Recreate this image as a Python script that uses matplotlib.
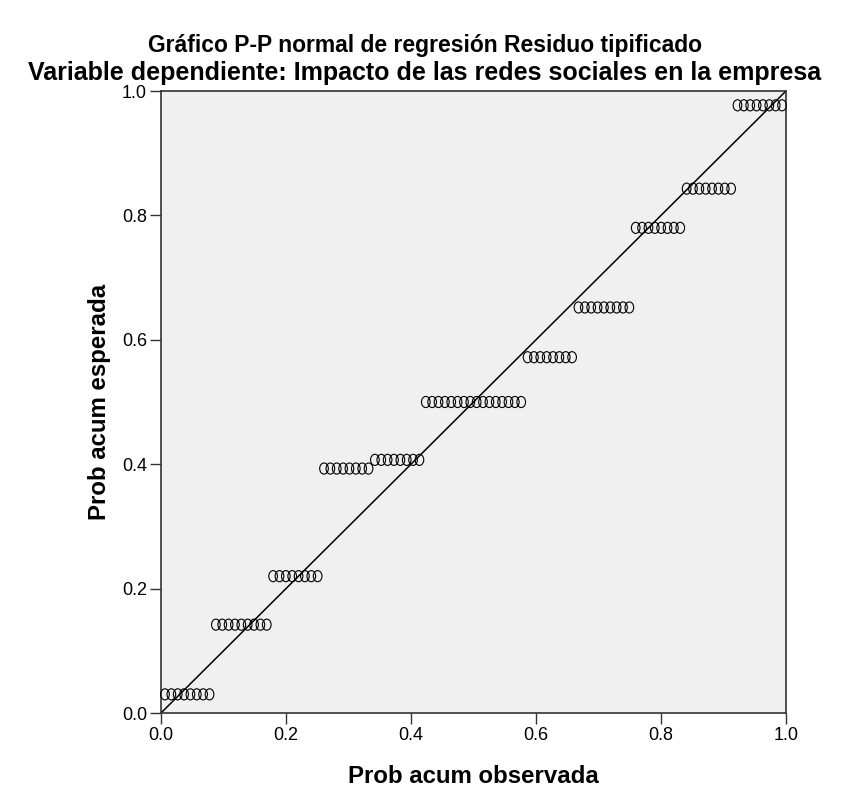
import numpy as np
import matplotlib.pyplot as plt
from matplotlib.path import Path
from matplotlib.transforms import Affine2D

# expected cumulative probability of each residual level, and how many cases share it
expected_levels = [0.030, 0.142, 0.220, 0.393, 0.407, 0.500, 0.572, 0.652, 0.780, 0.843, 0.977]
level_counts = [8, 9, 8, 8, 8, 16, 8, 9, 8, 8, 8]

title = "Gráfico P-P normal de regresión Residuo tipificado"
subtitle = "Variable dependiente: Impacto de las redes sociales en la empresa"
x_label = "Prob acum observada"
y_label = "Prob acum esperada"
ticks = [0.0, 0.2, 0.4, 0.6, 0.8, 1.0]
tick_labels = ["0.0", "0.2", "0.4", "0.6", "0.8", "1.0"]

plt.rcParams['font.family'] = ['Liberation Sans', 'DejaVu Sans']

# observed cumulative probability from ranks (Blom, as SPSS does)
expected = np.repeat(expected_levels, level_counts)
n = len(expected)
ranks = np.arange(1, n + 1)
observed = (ranks - 0.375) / (n + 0.25)

# slightly tall open circle, like the SPSS marker
ellipse = Affine2D().scale(0.78, 1.0).transform_path(Path.unit_circle())

fig = plt.figure(figsize=(8.5, 7.89), dpi=100)
ax = fig.add_axes([161 / 850, 1 - 713 / 789, 625 / 850, 622 / 789])
ax.set_facecolor('#f0f0f0')

ax.plot([0, 1], [0, 1], color='black', lw=1.1, zorder=2)
ax.scatter(observed, expected, s=64, marker=ellipse, facecolors='none',
           edgecolors='black', linewidths=0.8, zorder=3, clip_on=False)

ax.set_xlim(0, 1)
ax.set_ylim(0, 1)
ax.set_xticks(ticks)
ax.set_xticklabels(tick_labels)
ax.set_yticks(ticks)
ax.set_yticklabels(tick_labels)
ax.tick_params(direction='out', length=8, width=1, pad=2, labelsize=13, color='#333333')
for sp in ax.spines.values():
    sp.set_color('#333333')
    sp.set_linewidth(1.2)

ax.set_xlabel(x_label, fontsize=17.3, fontweight='bold', labelpad=15)
ax.set_ylabel(y_label, fontsize=17.3, fontweight='bold', labelpad=8)

fig.text(0.5, 1 - 52 / 789, title, ha='center', va='baseline', fontsize=16.5, fontweight='bold')
fig.text(0.5, 1 - 80 / 789, subtitle, ha='center', va='baseline', fontsize=18.0, fontweight='bold')

fig.savefig('out.png', dpi=100)
